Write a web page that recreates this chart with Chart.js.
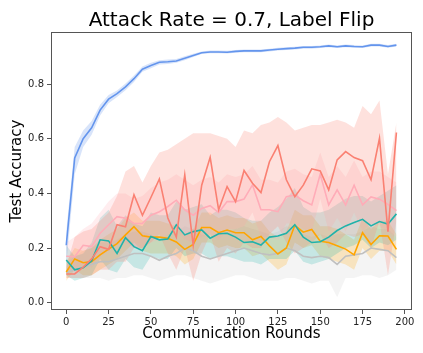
<!DOCTYPE html>
<html>
<head>
<meta charset="utf-8">
<script src="https://cdn.jsdelivr.net/npm/chart.js@4.4.0/dist/chart.umd.min.js"></script>
<style>
  html, body { margin: 0; padding: 0; background: #fff; }
  #wrap { width: 423px; height: 353px; }
</style>
</head>
<body>
<div id="wrap"><canvas id="chart" width="423" height="353"></canvas></div>
<script>
// rounds on the x axis
const rounds = [0,5,10,15,20,25,30,35,40,45,50,55,60,65,70,75,80,85,90,95,
                100,105,110,115,120,125,130,135,140,145,150,155,160,165,170,175,180,185,190,195]
const xTicks = [0,25,50,75,100,125,150,175,200]
const yTicks = [0.0,0.2,0.4,0.6,0.8]

// blue (top curve)
const blueMean = [0.21,0.53,0.60,0.64,0.705,0.745,0.765,0.79,0.82,0.855,0.868,0.88,0.882,0.885,0.895,0.905,0.915,0.918,0.918,0.917,
                  0.92,0.922,0.922,0.922,0.925,0.928,0.93,0.932,0.935,0.935,0.937,0.94,0.937,0.94,0.938,0.937,0.943,0.943,0.938,0.943]
const blueHi = [0.26,0.57,0.63,0.665,0.725,0.76,0.777,0.802,0.832,0.865,0.878,0.888,0.89,0.892,0.902,0.911,0.92,0.923,0.923,0.922,
                0.925,0.927,0.927,0.927,0.93,0.933,0.935,0.937,0.94,0.94,0.942,0.945,0.942,0.945,0.943,0.942,0.948,0.948,0.943,0.948]
const blueLo = [0.14,0.47,0.57,0.615,0.685,0.73,0.753,0.778,0.808,0.845,0.858,0.872,0.874,0.878,0.888,0.899,0.91,0.913,0.913,0.912,
                0.915,0.917,0.917,0.917,0.92,0.923,0.925,0.927,0.93,0.93,0.932,0.935,0.932,0.935,0.933,0.932,0.938,0.938,0.933,0.938]

// red / salmon
const redMean = [0.105,0.105,0.13,0.16,0.205,0.195,0.285,0.278,0.395,0.32,0.385,0.453,0.31,0.24,0.468,0.21,0.43,0.532,0.34,0.425,
                 0.37,0.484,0.437,0.403,0.516,0.575,0.45,0.388,0.43,0.49,0.482,0.413,0.523,0.553,0.531,0.52,0.45,0.602,0.26,0.623]
const redHi = [0.13,0.24,0.26,0.27,0.3,0.33,0.39,0.48,0.5,0.44,0.5,0.55,0.56,0.58,0.6,0.62,0.62,0.62,0.61,0.6,
               0.57,0.63,0.62,0.65,0.66,0.68,0.66,0.63,0.64,0.65,0.65,0.66,0.67,0.66,0.64,0.72,0.69,0.74,0.47,0.66]
const redLo = [0.09,0.09,0.09,0.1,0.12,0.12,0.15,0.15,0.2,0.2,0.22,0.25,0.18,0.12,0.2,0.08,0.18,0.25,0.15,0.2,
               0.18,0.22,0.2,0.2,0.25,0.28,0.22,0.18,0.2,0.22,0.25,0.2,0.22,0.25,0.24,0.25,0.2,0.3,0.1,0.3]

// pink
const pinkMean = [0.17,0.168,0.21,0.205,0.254,0.285,0.315,0.309,0.29,0.29,0.32,0.333,0.352,0.375,0.34,0.32,0.345,0.355,0.33,0.37,
                  0.37,0.379,0.431,0.34,0.34,0.333,0.388,0.394,0.373,0.358,0.47,0.358,0.413,0.358,0.43,0.358,0.387,0.379,0.36,0.337]
const pinkHi = [0.22,0.24,0.27,0.29,0.33,0.37,0.4,0.4,0.38,0.39,0.42,0.44,0.45,0.47,0.45,0.43,0.45,0.46,0.44,0.47,
                0.46,0.47,0.5,0.45,0.45,0.44,0.48,0.49,0.47,0.46,0.55,0.46,0.5,0.46,0.52,0.46,0.48,0.48,0.46,0.44]
const pinkLo = [0.12,0.11,0.14,0.13,0.17,0.19,0.22,0.22,0.2,0.2,0.22,0.23,0.25,0.27,0.23,0.22,0.24,0.25,0.23,0.27,
                0.27,0.28,0.33,0.24,0.24,0.23,0.29,0.29,0.27,0.26,0.38,0.26,0.31,0.26,0.33,0.26,0.29,0.28,0.26,0.24]

// teal
const tealMean = [0.156,0.12,0.128,0.152,0.23,0.226,0.18,0.238,0.205,0.19,0.242,0.23,0.233,0.285,0.248,0.26,0.266,0.236,0.252,0.254,
                  0.24,0.22,0.223,0.211,0.24,0.244,0.254,0.285,0.24,0.22,0.223,0.24,0.264,0.281,0.293,0.305,0.281,0.297,0.288,0.325]
const tealHi = [0.21,0.17,0.18,0.22,0.31,0.34,0.28,0.32,0.29,0.28,0.33,0.32,0.32,0.37,0.34,0.35,0.36,0.32,0.34,0.34,
                0.33,0.31,0.3,0.3,0.33,0.35,0.38,0.42,0.35,0.33,0.33,0.34,0.36,0.38,0.39,0.39,0.37,0.39,0.41,0.43]
const tealLo = [0.1,0.08,0.09,0.1,0.16,0.12,0.11,0.16,0.13,0.12,0.17,0.16,0.16,0.2,0.17,0.18,0.18,0.16,0.17,0.17,
                0.16,0.15,0.15,0.14,0.16,0.16,0.16,0.19,0.15,0.14,0.15,0.16,0.18,0.2,0.21,0.23,0.2,0.22,0.21,0.23]

// orange
const orangeMean = [0.112,0.16,0.146,0.15,0.175,0.196,0.216,0.248,0.278,0.245,0.24,0.24,0.236,0.222,0.195,0.213,0.275,0.275,0.256,0.266,
                    0.256,0.256,0.23,0.242,0.208,0.178,0.2,0.283,0.258,0.268,0.225,0.22,0.208,0.196,0.175,0.256,0.213,0.245,0.244,0.195]
const orangeHi = [0.15,0.2,0.19,0.2,0.23,0.25,0.27,0.31,0.33,0.3,0.3,0.3,0.29,0.28,0.25,0.27,0.33,0.33,0.31,0.32,
                  0.31,0.31,0.29,0.3,0.26,0.24,0.26,0.34,0.32,0.32,0.28,0.28,0.27,0.25,0.23,0.31,0.27,0.3,0.3,0.25]
const orangeLo = [0.08,0.12,0.1,0.1,0.12,0.14,0.16,0.19,0.22,0.19,0.18,0.18,0.18,0.17,0.14,0.16,0.22,0.22,0.2,0.21,
                  0.2,0.2,0.17,0.18,0.15,0.12,0.14,0.22,0.2,0.21,0.17,0.16,0.15,0.14,0.12,0.2,0.16,0.19,0.19,0.14]

// gray
const grayMean = [0.11,0.12,0.13,0.14,0.15,0.15,0.16,0.17,0.18,0.18,0.17,0.155,0.17,0.18,0.2,0.19,0.17,0.16,0.17,0.18,
                  0.19,0.2,0.19,0.18,0.175,0.18,0.2,0.19,0.17,0.165,0.17,0.165,0.14,0.17,0.175,0.18,0.2,0.195,0.19,0.165]
const grayHi = [0.15,0.17,0.19,0.2,0.22,0.22,0.23,0.25,0.26,0.26,0.25,0.23,0.25,0.26,0.28,0.27,0.25,0.24,0.25,0.26,
                0.27,0.28,0.27,0.26,0.25,0.26,0.28,0.27,0.25,0.24,0.25,0.24,0.25,0.25,0.25,0.26,0.28,0.27,0.27,0.24]
const grayLo = [0.09,0.09,0.09,0.09,0.09,0.08,0.09,0.09,0.1,0.1,0.09,0.08,0.09,0.1,0.1,0.09,0.08,0.07,0.08,0.09,
                0.1,0.1,0.09,0.08,0.08,0.08,0.09,0.09,0.08,0.07,0.08,0.08,0.02,0.09,0.09,0.1,0.1,0.09,0.1,0.12]

const series = [
    { mean: grayMean,   hi: grayHi,   lo: grayLo,   rgb: '192,192,192', a: 0.18 },
    { mean: orangeMean, hi: orangeHi, lo: orangeLo, rgb: '255,165,0',   a: 0.22 },
    { mean: tealMean,   hi: tealHi,   lo: tealLo,   rgb: '32,178,170',  a: 0.22 },
    { mean: pinkMean,   hi: pinkHi,   lo: pinkLo,   rgb: '255,172,184', a: 0.22 },
    { mean: redMean,    hi: redHi,    lo: redLo,    rgb: '250,128,114', a: 0.24 },
    { mean: blueMean,   hi: blueHi,   lo: blueLo,   rgb: '100,149,237', a: 0.25 }
]

function pts(vals)
{
    return rounds.map((r, i) => ({ x: r, y: vals[i] }))
}

const datasets = []
series.forEach((s, n) => {
    const hiIdx = datasets.length
    datasets.push({ data: pts(s.hi), borderWidth: 0, pointRadius: 0, fill: false, order: 100 - n })
    datasets.push({ data: pts(s.lo), borderWidth: 0, pointRadius: 0,
                    fill: { target: hiIdx }, backgroundColor: 'rgba(' + s.rgb + ',' + s.a + ')', order: 100 - n })
    datasets.push({ data: pts(s.mean), borderColor: 'rgb(' + s.rgb + ')', borderWidth: 1.6,
                    pointRadius: 0, fill: false, order: 50 - n })
})

const font = 'DejaVu Sans'

// frame around the plot area + title centred over it
const frame = {
    id: 'frame',
    afterDraw(chart) {
        const a = chart.chartArea, c = chart.ctx
        c.save()
        c.strokeStyle = '#555'
        c.lineWidth = 1
        c.strokeRect(Math.round(a.left) + 0.5, Math.round(a.top) + 0.5,
                     Math.round(a.right - a.left) - 1, Math.round(a.bottom - a.top) - 1)
        c.fillStyle = '#000'
        c.font = '20px "' + font + '"'
        c.textAlign = 'center'
        c.textBaseline = 'alphabetic'
        c.fillText('Attack Rate = 0.7, Label Flip', (a.left + a.right) / 2, 26)
        c.restore()
    }
}

const ctx = document.getElementById('chart').getContext('2d')
new Chart(ctx, {
    type: 'line',
    data: { datasets: datasets },
    plugins: [frame],
    options: {
        responsive: false,
        animation: false,
        layout: { padding: { left: 0, right: 11, top: 32, bottom: 0 } },
        elements: { line: { tension: 0 } },
        plugins: {
            legend: { display: false },
            tooltip: { enabled: false },
            title: { display: false }
        },
        scales: {
            x: {
                type: 'linear',
                min: -9,
                max: 204.2,
                afterBuildTicks: (s) => { s.ticks = xTicks.map(v => ({ value: v })) },
                afterFit: (s) => { s.height = 43 },
                border: { display: false },
                grid: { drawOnChartArea: false, drawTicks: true, tickLength: 4, color: '#555' },
                ticks: { color: '#222', font: { family: font, size: 10 }, padding: 2, maxRotation: 0 },
                title: {
                    display: true,
                    text: 'Communication Rounds',
                    color: '#000',
                    font: { family: font, size: 15 },
                    padding: { top: 0, bottom: 10 }
                }
            },
            y: {
                min: -0.027,
                max: 0.991,
                afterBuildTicks: (s) => { s.ticks = yTicks.map(v => ({ value: v })) },
                afterFit: (s) => { s.width = 51 },
                border: { display: false },
                grid: { drawOnChartArea: false, drawTicks: true, tickLength: 4, color: '#555' },
                ticks: { color: '#222', font: { family: font, size: 10 }, padding: 3,
                         callback: (v) => v.toFixed(1) },
                title: {
                    display: true,
                    text: 'Test Accuracy',
                    color: '#000',
                    font: { family: font, size: 15 },
                    padding: { top: 8, bottom: 0 }
                }
            }
        }
    }
})
</script>
</body>
</html>
